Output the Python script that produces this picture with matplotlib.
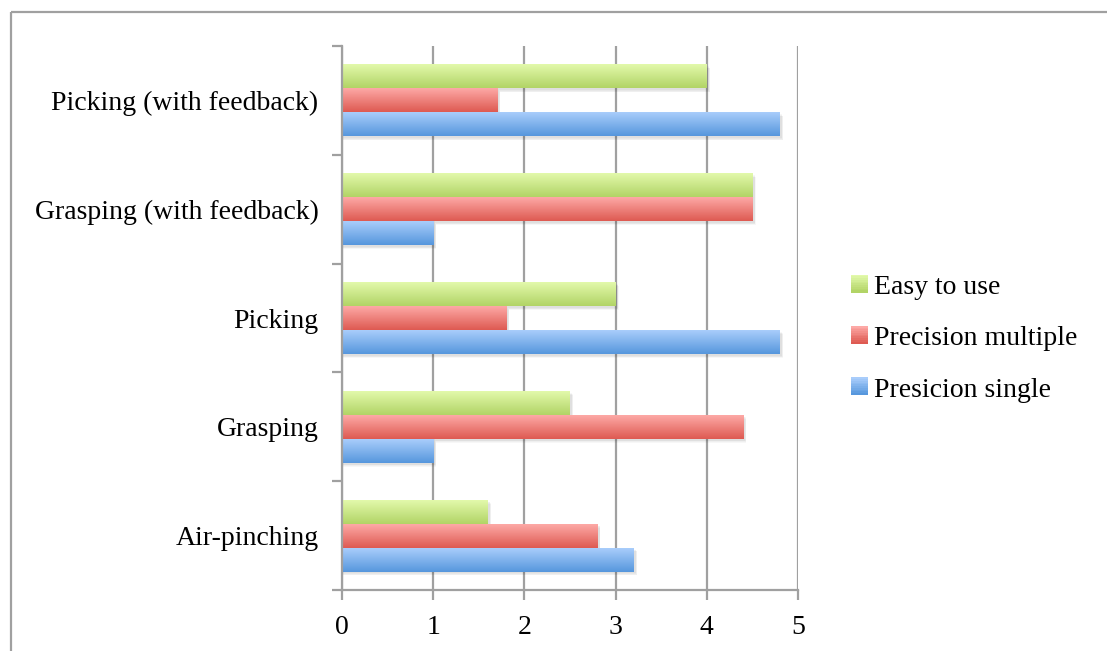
import numpy as np
import matplotlib
matplotlib.use("Agg")
import matplotlib.pyplot as plt
from matplotlib.patches import Rectangle
from matplotlib.lines import Line2D
from matplotlib.legend_handler import HandlerBase
from matplotlib.colors import to_rgb

categories = ["Air-pinching", "Grasping", "Picking",
              "Grasping (with feedback)", "Picking (with feedback)"]
series_names = ["Presicion single", "Precision multiple", "Easy to use"]
presicion_single = [3.2, 1.0, 4.8, 1.0, 4.8]
precision_multiple = [2.8, 4.4, 1.8, 4.5, 1.7]
easy_to_use = [1.6, 2.5, 3.0, 4.5, 4.0]
x_ticks = [0, 1, 2, 3, 4, 5]

# (top colour, bottom colour) of each bar gradient
gradients = [("#a9cdfb", "#5697dd"),
             ("#fda9a6", "#de5a52"),
             ("#e2f9ab", "#b2d466")]

plt.rcParams["font.family"] = ["Liberation Serif", "DejaVu Serif"]
FS = 20

fig = plt.figure(figsize=(11.07, 6.51), dpi=100)
ax = fig.add_axes([342 / 1107, 1 - 590 / 651, 456 / 1107, 544 / 651])

# outer frame (top and left edges visible)
frame_kw = dict(transform=fig.transFigure, color="#a0a0a0", linewidth=1.6,
                solid_capstyle="butt")
fig.lines.append(Line2D([11 / 1107, 1.0], [1 - 12 / 651] * 2, **frame_kw))
fig.lines.append(Line2D([11 / 1107] * 2, [0.0, 1 - 12 / 651], **frame_kw))

bar_h = 0.22
values = [presicion_single, precision_multiple, easy_to_use]
y = np.arange(len(categories))


def gradient_image(top, bottom, n=64):
    t = np.linspace(0, 1, n)[:, None]
    c0, c1 = np.array(to_rgb(top)), np.array(to_rgb(bottom))
    return (c0 * (1 - t) + c1 * t)[:, None, :]


for k, (vals, (top, bot)) in enumerate(zip(values, gradients)):
    offs = (k - 1) * bar_h
    bars = ax.barh(y + offs, vals, height=bar_h, color=bot, linewidth=0,
                   zorder=3, label=series_names[k])
    for b, v in zip(bars, vals):
        y0 = b.get_y()
        # soft drop shadow
        for s in range(4):
            d = 0.006 * (s + 1)
            ax.add_patch(Rectangle((0, y0 - 0.012 - d), v + 0.02 + d * 0.6, bar_h,
                                   facecolor="black", alpha=0.03, linewidth=0,
                                   zorder=2))
        ax.imshow(gradient_image(top, bot), extent=(0, v, y0, y0 + bar_h),
                  aspect="auto", origin="upper", zorder=3.5,
                  interpolation="bilinear")

ax.set_xlim(0, 5)
ax.set_ylim(-0.5, len(categories) - 0.5)
ax.set_aspect("auto")
ax.set_xticks(x_ticks)
ax.set_xticklabels([str(t) for t in x_ticks], fontsize=FS)
ax.set_yticks(y)
ax.set_yticklabels(categories, fontsize=FS)
ax.set_yticks(np.arange(-0.5, len(categories), 1.0), minor=True)

ax.tick_params(axis="y", which="major", length=0, pad=17)
ax.tick_params(axis="y", which="minor", length=7, width=1.6, color="#a0a0a0",
               direction="out")
ax.tick_params(axis="x", which="major", length=7, width=1.6, color="#a0a0a0",
               direction="out", pad=11)

ax.grid(axis="x", color="#a0a0a0", linewidth=1.6, zorder=1)
ax.set_axisbelow(True)
for side in ("top", "right"):
    ax.spines[side].set_visible(False)
for side in ("left", "bottom"):
    ax.spines[side].set_color("#a0a0a0")
    ax.spines[side].set_linewidth(1.6)
    ax.spines[side].set_zorder(5)


class GradientHandler(HandlerBase):
    def __init__(self, top, bottom):
        super().__init__()
        self.top, self.bottom = top, bottom

    def create_artists(self, legend, orig_handle, xdescent, ydescent,
                       width, height, fontsize, trans):
        size = height * 1.05
        n = 10
        c0, c1 = np.array(to_rgb(self.top)), np.array(to_rgb(self.bottom))
        arts = []
        for i in range(n):
            t = i / (n - 1)
            col = c0 * (1 - t) + c1 * t
            arts.append(Rectangle((width - size - xdescent,
                                   -ydescent + size * (1 - (i + 1) / n)),
                                  size, size / n + 0.3, facecolor=col,
                                  linewidth=0, transform=trans))
        return arts


handles, labels = ax.get_legend_handles_labels()
order = [2, 1, 0]
leg = fig.legend([handles[i] for i in order], [labels[i] for i in order],
                 loc="upper left", bbox_to_anchor=(853 / 1107, 1 - 275 / 651),
                 frameon=False, fontsize=FS, labelspacing=0.95,
                 handlelength=0.55, handleheight=0.55, handletextpad=0.2,
                 borderaxespad=0, borderpad=0,
                 handler_map={handles[i]: GradientHandler(*gradients[i])
                              for i in order})

fig.savefig("out.png", dpi=100, facecolor="white")
